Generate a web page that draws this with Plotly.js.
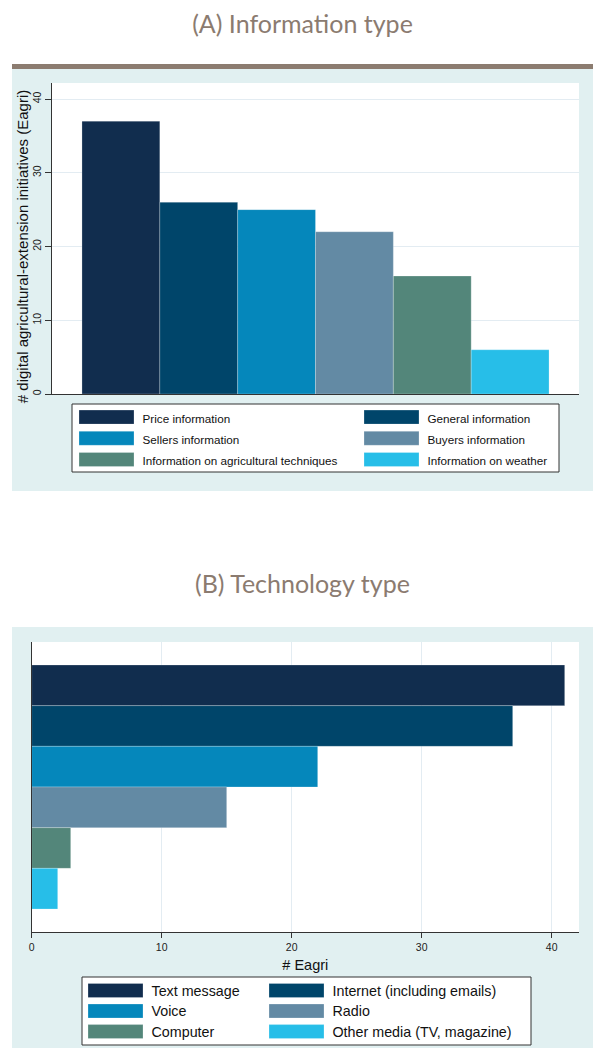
<!DOCTYPE html>
<html>
<head>
<meta charset="utf-8">
<script src="https://cdn.plot.ly/plotly-3.0.1.min.js"></script>
<style>html,body{margin:0;padding:0;background:#fff;}</style>
</head>
<body>
<div id="chart" style="width:593px;height:1050px;"></div>
<script>
// ---------- data ----------
const titleA = '(A) Information type';
const titleB = '(B) Technology type';
const yTitleA = '# digital agricultural-extension initiatives (Eagri)';
const xTitleB = '# Eagri';
const catsA = ['Price information', 'General information', 'Sellers information',
               'Buyers information', 'Information on agricultural techniques', 'Information on weather'];
const valsA = [37, 26, 25, 22, 16, 6];
const catsB = ['Text message', 'Internet (including emails)', 'Voice',
               'Radio', 'Computer', 'Other media (TV, magazine)'];
const valsB = [41, 37, 22, 15, 3, 2];
const colors = ['#112d4e', '#00456a', '#0587bb', '#638aa4', '#53867a', '#27bee8'];
const ticksVals = [0, 10, 20, 30, 40];

// ---------- helpers (pixel -> paper) ----------
const W = 593, H = 1050;
const px = p => p / W;
const py = p => 1 - p / H;
const FONT = 'Liberation Sans, Arial, sans-serif';
const TFONT = 'Lato, Open Sans, sans-serif';
const TCOL = '#8b7b70';

const traces = [];
catsA.forEach((c, i) => traces.push({
  type: 'bar', x: [c], y: [valsA[i]],
  name: '<span style="font-size:11.7px">' + c + '</span>',
  marker: {color: colors[i], line: {color: 'rgba(255,255,255,0.3)', width: 0.8}},
  xaxis: 'x', yaxis: 'y', legend: i % 2 === 0 ? 'legend' : 'legend2',
  hoverinfo: 'skip'
}));
catsB.forEach((c, i) => traces.push({
  type: 'bar', orientation: 'h', y: [c], x: [valsB[i]],
  name: '<span style="font-size:14.3px">' + c + '</span>',
  marker: {color: colors[i], line: {color: 'rgba(255,255,255,0.3)', width: 0.8}},
  xaxis: 'x2', yaxis: 'y2', legend: i % 2 === 0 ? 'legend3' : 'legend4',
  hoverinfo: 'skip'
}));

function leg(left, top, size) {
  return {x: px(left), y: py(top), xanchor: 'left', yanchor: 'top', orientation: 'v',
          bgcolor: 'rgba(0,0,0,0)', borderwidth: 0, itemwidth: 62, traceorder: 'normal',
          itemclick: false, itemdoubleclick: false,
          font: {family: FONT, size: size, color: '#111'}};
}

const layout = {
  width: W, height: H,
  margin: {l: 0, r: 0, t: 0, b: 0},
  paper_bgcolor: '#ffffff', plot_bgcolor: 'rgba(0,0,0,0)',
  barmode: 'relative', bargap: 0,
  showlegend: true,
  title: {text: titleA, x: px(302.5), xanchor: 'center', y: py(24), yanchor: 'middle',
          font: {family: TFONT, size: 25, color: TCOL}},
  xaxis: {domain: [px(52), px(579)], anchor: 'y', type: 'category', categoryarray: catsA,
          range: [-0.885, 5.885], showticklabels: false, ticks: '', showgrid: false,
          zeroline: false, showline: true, linecolor: '#333', linewidth: 1, fixedrange: true},
  yaxis: {domain: [py(394), py(83)], anchor: 'x', range: [0, 42.17], tickvals: ticksVals,
          ticks: 'outside', ticklen: 6, tickcolor: '#333', tickangle: -90,
          tickfont: {family: FONT, size: 10.5, color: '#222'},
          showgrid: true, gridcolor: '#e3ecf2', gridwidth: 1, zeroline: false,
          showline: true, linecolor: '#333', linewidth: 1, fixedrange: true},
  xaxis2: {domain: [px(31.7), px(579)], anchor: 'y2', range: [0, 42.1], tickvals: ticksVals,
           ticks: 'outside', ticklen: 5, tickcolor: '#333',
           tickfont: {family: FONT, size: 10.5, color: '#222'},
           title: {text: xTitleB, font: {family: FONT, size: 14.5, color: '#111'}, standoff: 8},
           showgrid: true, gridcolor: '#e3ecf2', gridwidth: 1, zeroline: false,
           showline: true, linecolor: '#333', linewidth: 1, fixedrange: true},
  yaxis2: {domain: [py(932), py(642)], anchor: 'x2', type: 'category', categoryarray: catsB,
           range: [6.065, -1.065], showticklabels: false, ticks: '', showgrid: false,
           zeroline: false, showline: true, linecolor: '#333', linewidth: 1, fixedrange: true},
  legend: leg(70.5, 401.5, 14),
  legend2: leg(355.5, 401.5, 14),
  legend3: leg(79.5, 975.2, 13.5),
  legend4: leg(260.5, 975.2, 13.5),
  shapes: [
    {type: 'rect', xref: 'paper', yref: 'paper', x0: px(12), x1: 1, y0: py(491), y1: py(69),
     fillcolor: '#e1f0f1', line: {width: 0}, layer: 'below'},
    {type: 'rect', xref: 'paper', yref: 'paper', x0: px(12), x1: 1, y0: py(69), y1: py(64),
     fillcolor: '#8c7c70', line: {width: 0}, layer: 'below'},
    {type: 'rect', xref: 'paper', yref: 'paper', x0: px(12), x1: 1, y0: py(1048), y1: py(627),
     fillcolor: '#e1f0f1', line: {width: 0}, layer: 'below'},
    {type: 'rect', xref: 'x domain', yref: 'y domain', x0: 0, x1: 1, y0: 0, y1: 1,
     fillcolor: '#ffffff', line: {width: 0}, layer: 'below'},
    {type: 'rect', xref: 'x2 domain', yref: 'y2 domain', x0: 0, x1: 1, y0: 0, y1: 1,
     fillcolor: '#ffffff', line: {width: 0}, layer: 'below'},
    {type: 'rect', xref: 'paper', yref: 'paper', x0: px(72), x1: px(559), y0: py(472), y1: py(404),
     fillcolor: '#ffffff', line: {color: '#333', width: 1}, layer: 'below'},
    {type: 'rect', xref: 'paper', yref: 'paper', x0: px(82), x1: px(531), y0: py(1045), y1: py(977),
     fillcolor: '#ffffff', line: {color: '#333', width: 1}, layer: 'below'}
  ],
  annotations: [
    {text: titleB, xref: 'paper', yref: 'paper', x: px(302.5), y: py(583), xanchor: 'center',
     yanchor: 'middle', showarrow: false, font: {family: TFONT, size: 25, color: TCOL}},
    {text: yTitleA, xref: 'paper', yref: 'paper', x: px(22.7), y: py(246.5), textangle: -90,
     xanchor: 'center', yanchor: 'middle', showarrow: false,
     font: {family: FONT, size: 15, color: '#111'}}
  ]
};

Plotly.newPlot('chart', traces, layout, {displayModeBar: false, staticPlot: true}).then(gd => {
  gd.querySelectorAll('.legendpoints path').forEach(p => {
    p.setAttribute('d', 'M-27.5,-7H27.5V7H-27.5Z');
  });
});
</script>
</body>
</html>
